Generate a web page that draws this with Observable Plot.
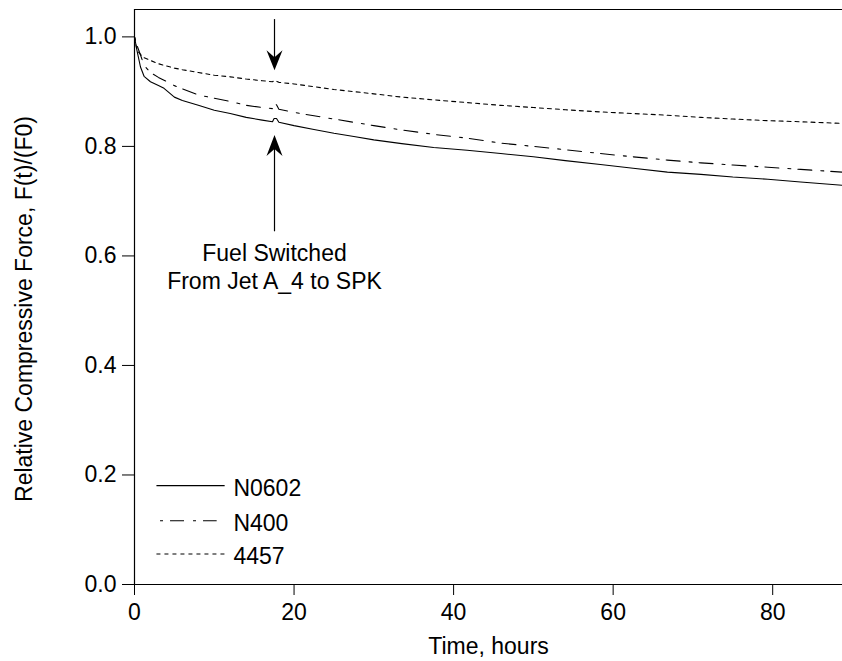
<!DOCTYPE html>
<html>
<head>
<meta charset="utf-8">
<script src="https://cdn.jsdelivr.net/npm/d3@7"></script>
<script src="https://cdn.jsdelivr.net/npm/@observablehq/plot@0.6"></script>
<style>
  html, body { margin: 0; padding: 0; background: #fff; }
</style>
</head>
<body>
<div id="chart"></div>
<script>
// ---- data ----
const hours = [0, 0.3, 0.75, 1.2, 2, 3, 3.7, 5, 6, 8, 10, 12, 14, 16, 17.3, 17.5, 17.8, 18.1, 20, 22.5, 25, 27.5, 30, 33.5, 37.5, 41.7, 45.9, 50, 54, 58.4, 62.5, 66.8, 71, 75, 79.4, 83.5, 88.75];
const n0602 = [1.0, 0.976, 0.945, 0.928, 0.918, 0.911, 0.906, 0.890, 0.884, 0.875, 0.866, 0.860, 0.853, 0.848, 0.845, 0.851, 0.851, 0.844, 0.838, 0.831, 0.824, 0.818, 0.812, 0.805, 0.798, 0.793, 0.787, 0.781, 0.774, 0.767, 0.760, 0.753, 0.749, 0.744, 0.740, 0.735, 0.729];
const n400 = [1.0, 0.985, 0.967, 0.948, 0.935, 0.926, 0.921, 0.911, 0.905, 0.894, 0.888, 0.882, 0.875, 0.871, 0.869, 0.877, 0.876, 0.868, 0.862, 0.856, 0.850, 0.844, 0.838, 0.830, 0.822, 0.815, 0.806, 0.800, 0.794, 0.787, 0.781, 0.775, 0.770, 0.766, 0.762, 0.758, 0.753];
const s4457 = [1.0, 0.976, 0.968, 0.962, 0.957, 0.951, 0.948, 0.943, 0.940, 0.935, 0.930, 0.927, 0.923, 0.920, 0.918, 0.920, 0.919, 0.917, 0.914, 0.909, 0.904, 0.900, 0.896, 0.890, 0.885, 0.880, 0.875, 0.871, 0.867, 0.863, 0.860, 0.857, 0.853, 0.850, 0.847, 0.845, 0.842];
const seriesNames = ["N0602", "N400", "4457"];
const xTicks = [0, 20, 40, 60, 80];
const yTicks = [0, 0.2, 0.4, 0.6, 0.8, 1.0];
const xLabel = "Time, hours";
const yLabel = "Relative Compressive Force, F(t)/(F0)";
const switchHour = 17.55;
const annotationText = "Fuel Switched\nFrom Jet A_4 to SPK";

// ---- layout / style (kept out of data) ----
const xDomain = [0, 88.75];
const yDomain = [0, 1.05];
const dashes = ["none", "3,7,14,9", "4,4"];
const legendRows = seriesNames.map((name, i) => ({
  name, dash: dashes[i],
  x1: i === 1 ? 3.2 : 2.75, x2: i === 1 ? 10.3 : 11.3,
  y: [0.1805, 0.1165, 0.0556][i]
}));
const downArrow = [{x: switchHour, y1: 1.0325, y2: 0.95, tip: 0.939}];
const upArrow = [{x: switchHour, y1: 0.645, y2: 0.81, tip: 0.8208}];
const annotation = [{x: switchHour, y: 0.5815, text: annotationText}];

const arrowDownSymbol = {draw(ctx) { ctx.moveTo(0, 0); ctx.lineTo(-8, -20); ctx.lineTo(0, -13); ctx.lineTo(8, -20); ctx.closePath(); }};
const arrowUpSymbol = {draw(ctx) { ctx.moveTo(0, 0); ctx.lineTo(-8, 21); ctx.lineTo(0, 14); ctx.lineTo(8, 21); ctx.closePath(); }};

const seriesValues = [n0602, n400, s4457];

const chart = Plot.plot({
  width: 842,
  height: 661,
  marginLeft: 134,
  marginRight: 0,
  marginTop: 9,
  marginBottom: 77,
  style: {fontFamily: '"Liberation Sans", Arial, sans-serif', fontSize: "23px", color: "#000", background: "#fff"},
  x: {domain: xDomain, ticks: xTicks, tickSize: 11, tickPadding: 8, label: null, tickFormat: d3.format("d")},
  y: {domain: yDomain, ticks: yTicks, tickSize: 12, tickPadding: 6, label: null, tickFormat: d3.format(".1f")},
  marks: [
    Plot.ruleY([yDomain[1]], {stroke: "#000", strokeWidth: 1.2}),
    Plot.ruleY([0], {stroke: "#000", strokeWidth: 1.2}),
    Plot.ruleX([0], {stroke: "#000", strokeWidth: 1.2}),
    ...seriesValues.map((vals, i) => Plot.line(hours, {
      x: hours, y: vals, stroke: "#000", strokeWidth: 1.1,
      strokeDasharray: dashes[i], clip: true
    })),
    // legend
    ...legendRows.map(row => Plot.link([row], {x1: "x1", x2: "x2", y1: "y", y2: "y", stroke: "#000", strokeWidth: 1.1, strokeDasharray: row.dash})),
    Plot.text(legendRows, {x: 12.4, y: "y", dy: 3, text: "name", textAnchor: "start"}),
    // fuel switch arrows
    Plot.link(downArrow, {x1: "x", x2: "x", y1: "y1", y2: "y2", stroke: "#000", strokeWidth: 1.2}),
    Plot.dot(downArrow, {x: "x", y: "tip", symbol: arrowDownSymbol, fill: "#000", r: 6}),
    Plot.link(upArrow, {x1: "x", x2: "x", y1: "y1", y2: "y2", stroke: "#000", strokeWidth: 1.2}),
    Plot.dot(upArrow, {x: "x", y: "tip", symbol: arrowUpSymbol, fill: "#000", r: 6}),
    Plot.text(annotation, {x: "x", y: "y", text: "text", lineHeight: 1.22}),
    // axis titles
    Plot.text([xLabel], {frameAnchor: "bottom", lineAnchor: "middle", textAnchor: "middle", dy: 62, text: d => d}),
    Plot.text([yLabel], {frameAnchor: "left", textAnchor: "middle", lineAnchor: "middle", rotate: -90, dx: -110, dy: 12, text: d => d})
  ]
});
document.getElementById("chart").append(chart);
</script>
</body>
</html>
